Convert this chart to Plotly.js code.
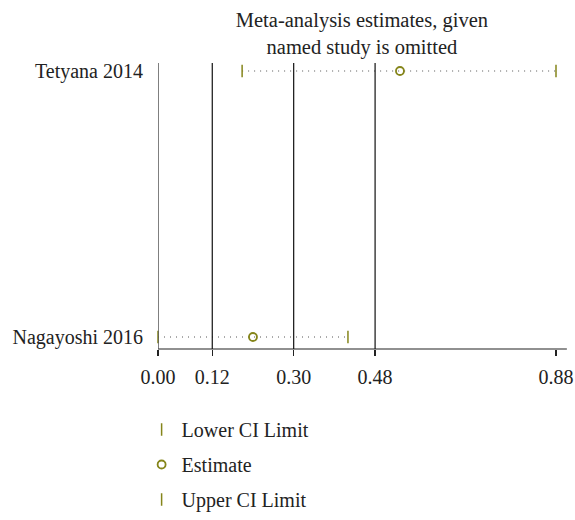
<!DOCTYPE html>
<html>
<head>
<meta charset="utf-8">
<script src="https://cdn.plot.ly/plotly-3.0.1.min.js"></script>
<style>html,body{margin:0;padding:0;background:#fff;}#chart{width:575px;height:520px;}</style>
</head>
<body>
<div id="chart"></div>
<script>
const studies = ["Tetyana 2014", "Nagayoshi 2016"];
const studyPos = [2, 1];
const lowerCI = [0.186, 0.00];
const estimate = [0.535, 0.21];
const upperCI = [0.88, 0.42];
const refLines = [0.12, 0.30, 0.48];
const tickVals = [0.00, 0.12, 0.30, 0.48, 0.88];
const tickText = ["0.00", "0.12", "0.30", "0.48", "0.88"];
const axisEnd = 0.904;

const olive = "#85851a";
const font = "Liberation Serif, Times New Roman, serif";

const lx = [], ly = [];
studies.forEach((s, i) => {
  lx.push(lowerCI[i], upperCI[i], null);
  ly.push(studyPos[i], studyPos[i], null);
});

const traces = [
  {x: lx, y: ly, mode: "lines", line: {color: "#555", width: 1, dash: "1px,5px"},
   showlegend: false, hoverinfo: "skip", cliponaxis: false},
  {x: lowerCI, y: studyPos, mode: "markers", name: "Lower CI Limit", legendgroup: "a",
   marker: {symbol: "line-ns", size: 9, line: {color: olive, width: 1.5}, color: olive}, cliponaxis: false},
  {x: estimate, y: studyPos, mode: "markers", name: "Estimate", legendgroup: "b",
   marker: {symbol: "circle-open", size: 8, line: {color: olive, width: 1.8}, color: olive}, cliponaxis: false},
  {x: upperCI, y: studyPos, mode: "markers", name: "Upper CI Limit", legendgroup: "c",
   marker: {symbol: "line-ns", size: 9, line: {color: olive, width: 1.5}, color: olive}, cliponaxis: false}
];

const shapes = [
  {type: "line", xref: "x", yref: "paper", x0: 0, x1: axisEnd, y0: 0, y1: 0,
   line: {color: "#222", width: 1.2}},
  {type: "line", xref: "x", yref: "paper", x0: 0, x1: 0, y0: 0, y1: 1,
   line: {color: "#555", width: 1.5}}
];
refLines.forEach(v => shapes.push({type: "line", xref: "x", yref: "paper", x0: v, x1: v, y0: 0, y1: 1,
  line: {color: "#111", width: 1.2}}));

const layout = {
  width: 575, height: 520,
  margin: {l: 158, r: 0, t: 63, b: 171},
  paper_bgcolor: "#fff", plot_bgcolor: "#fff",
  font: {family: font, size: 20, color: "#222"},
  title: {text: "Meta-analysis estimates, given<br>named study is omitted",
    x: 0.489, xref: "paper", xanchor: "center", y: 0.948, yanchor: "top",
    font: {family: font, size: 20.5, color: "#222"}},
  xaxis: {range: [0, 0.922], showgrid: false, zeroline: false, showline: false,
    ticks: "outside", ticklen: 6, tickcolor: "#222",
    tickwidth: 1.2, tickvals: tickVals, ticktext: tickText, ticklabelstandoff: 4,
    tickfont: {family: font, size: 20, color: "#222"}, fixedrange: true},
  yaxis: {range: [0.9549, 2.0301], showgrid: false, zeroline: false, showline: false,
    tickvals: studyPos, ticktext: studies, ticks: "", ticklabelstandoff: 14,
    tickfont: {family: font, size: 20, color: "#222"}, fixedrange: true},
  shapes: shapes,
  showlegend: true,
  legend: {orientation: "v", x: -0.0393, xanchor: "left", y: -0.5944, yanchor: "bottom",
    traceorder: "grouped", tracegroupgap: 6, font: {family: font, size: 20, color: "#222"},
    bgcolor: "rgba(0,0,0,0)"}
};

Plotly.newPlot("chart", traces, layout, {displayModeBar: false, staticPlot: true});
</script>
</body>
</html>
